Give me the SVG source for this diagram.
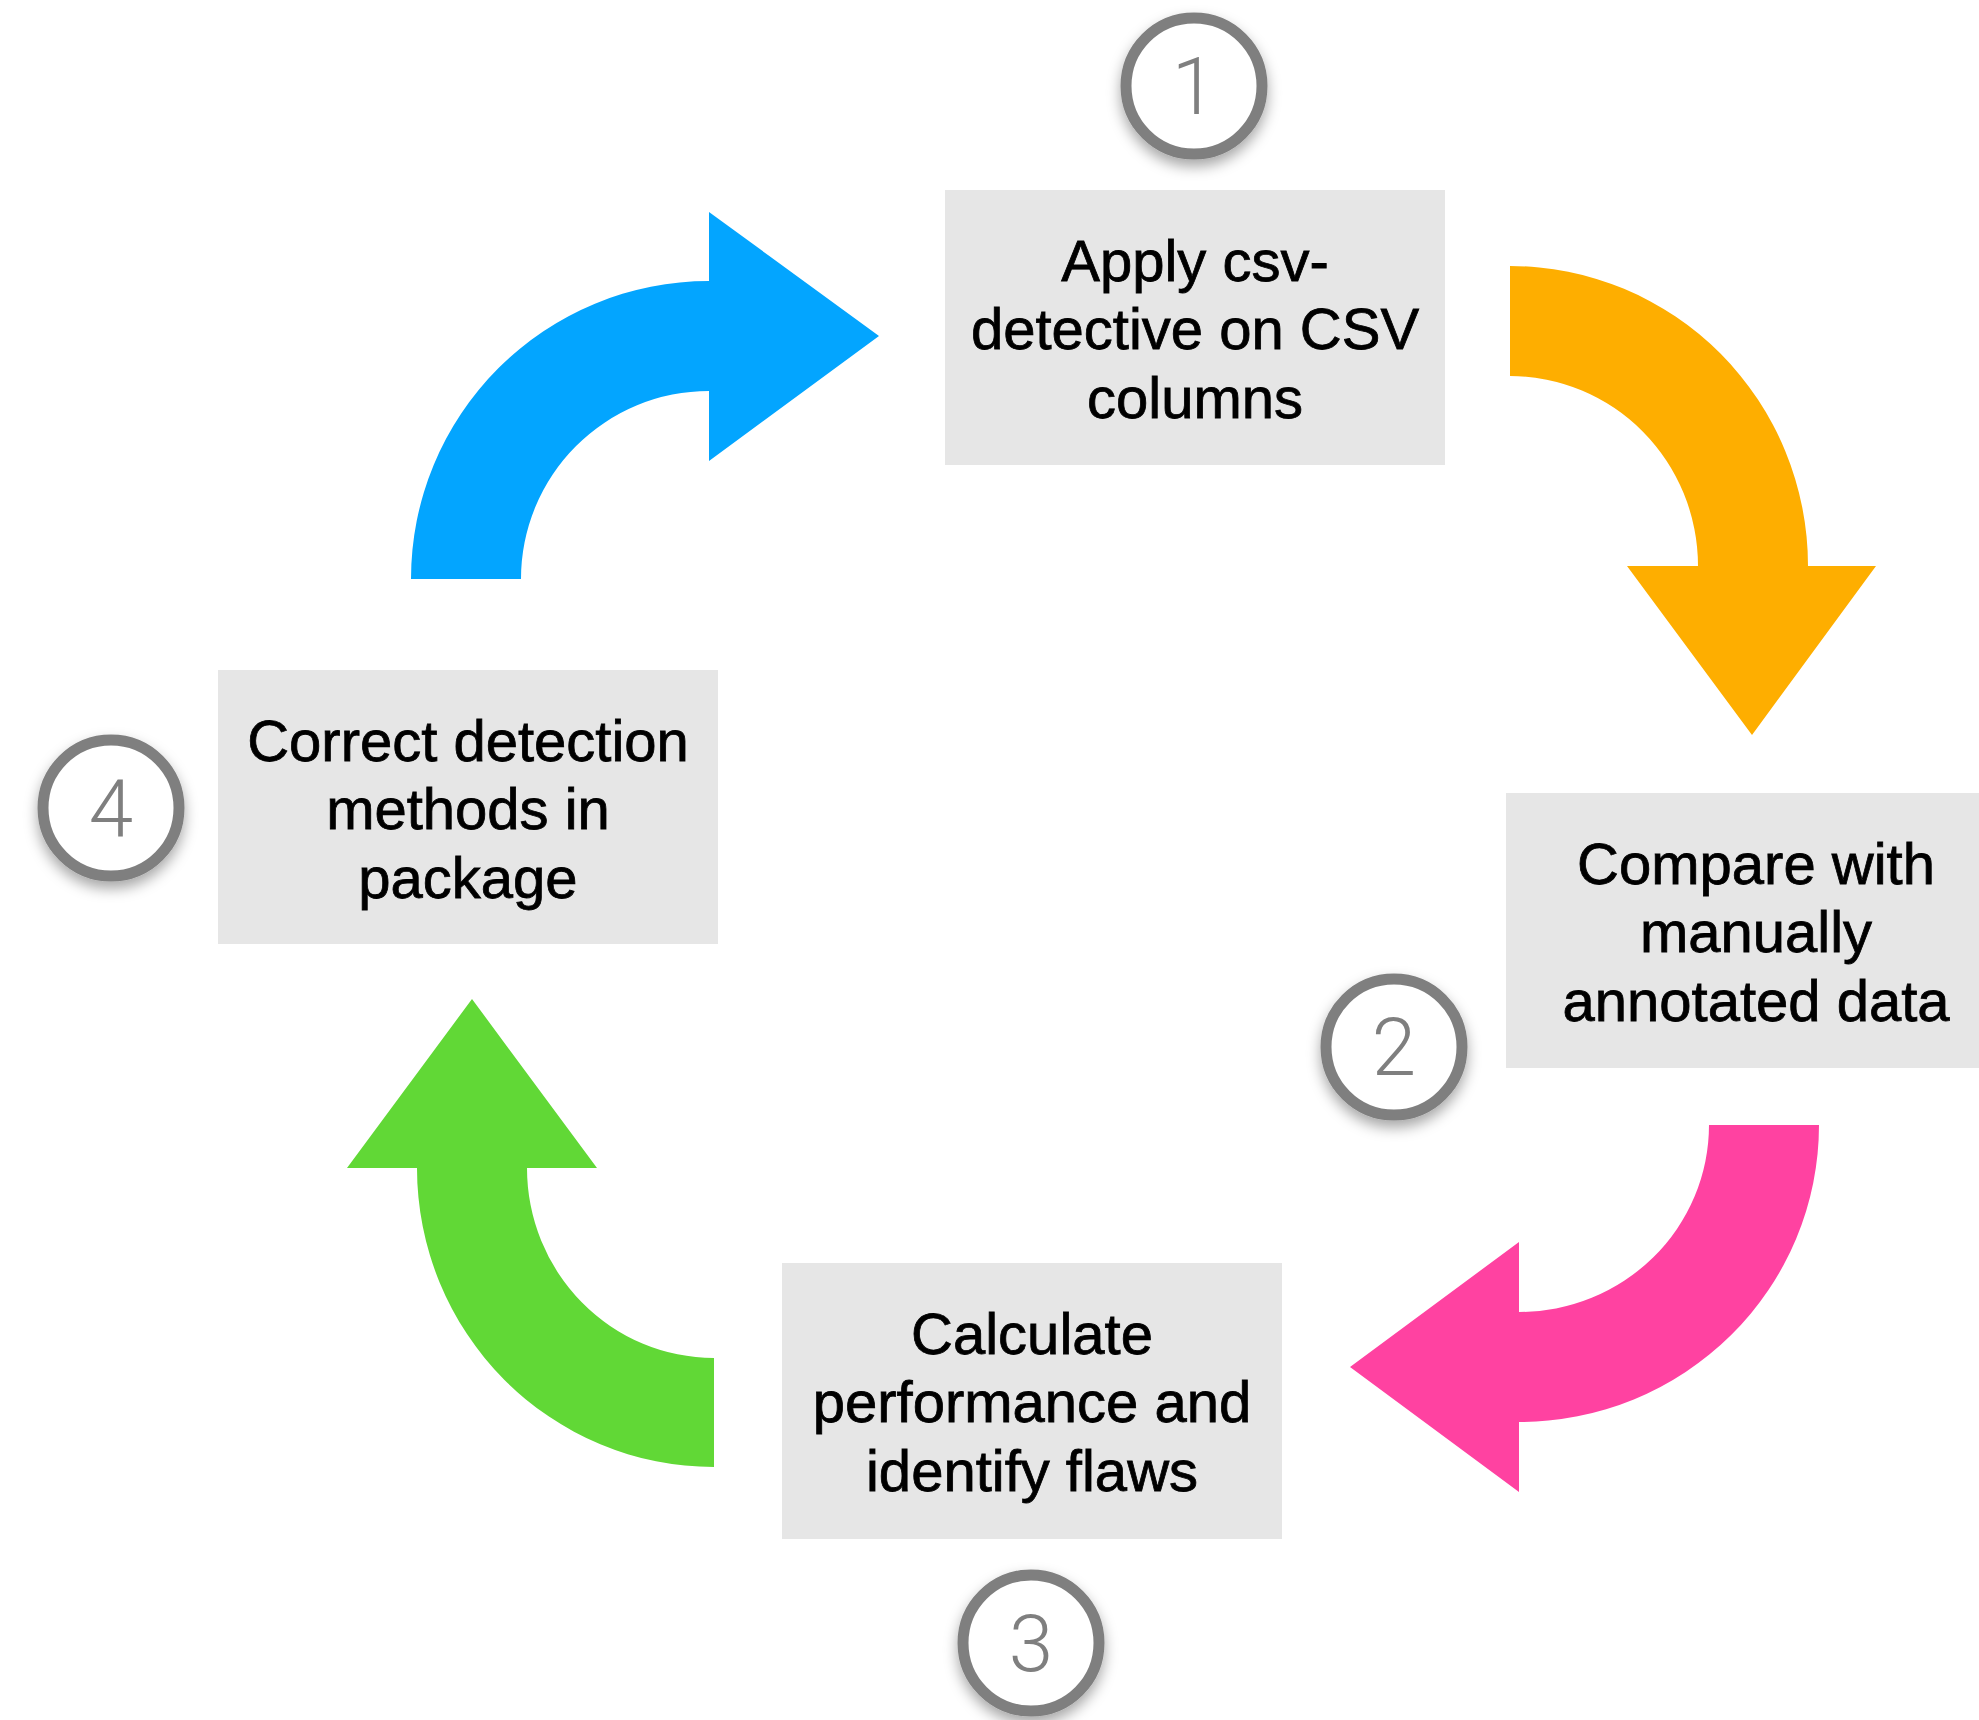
<svg xmlns="http://www.w3.org/2000/svg" width="1979" height="1720" viewBox="0 0 1979 1720">
<style>
.box{fill:#e6e6e6}
.lbl{font-family:"Liberation Sans",Arial,sans-serif;font-size:58px;fill:#000;stroke:#000;stroke-width:0.8;text-anchor:middle}
.ring{fill:#fff;stroke:#7f7f7f;stroke-width:11;filter:url(#sh)}
.num{font-family:Roboto,"Liberation Sans",sans-serif;font-weight:300;font-size:80px;fill:#7f7f7f;text-anchor:middle}
</style>
<defs>
<filter id="sh" x="-40%" y="-40%" width="180%" height="190%">
<feDropShadow dx="0" dy="7" stdDeviation="7" flood-color="#000" flood-opacity="0.35"/>
</filter>
</defs>
<rect width="1979" height="1720" fill="#fff"/>
<g id="connectors">
<path id="arrow-blue" fill="#03a5ff" d="M411 579 A298 298 0 0 1 709 281 L709 212 L879 336 L709 461 L709 391 A188 188 0 0 0 521 579 Z"/>
<path id="arrow-orange" fill="#feae00" d="M1510 266 A298 300 0 0 1 1808 566 L1876 566 L1752 735 L1627 566 L1698 566 A188 190 0 0 0 1510 376 Z"/>
<path id="arrow-pink" fill="#ff42a1" d="M1709 1125 L1819 1125 A300 297 0 0 1 1519 1422 L1519 1492 L1350 1367 L1519 1242 L1519 1312 A190 187 0 0 0 1709 1125 Z"/>
<path id="arrow-green" fill="#61d836" d="M714 1358 L714 1467 A297 299 0 0 1 417 1168 L347 1168 L472 999 L597 1168 L527 1168 A187 190 0 0 0 714 1358 Z"/>
</g>
<g id="node1">
<rect class="box" x="945" y="190" width="500" height="275"/>
<text class="lbl"><tspan x="1195" y="281">Apply csv-</tspan><tspan x="1195" y="349">detective on CSV</tspan><tspan x="1195" y="418">columns</tspan></text>
</g>
<g id="node2">
<rect class="box" x="1506" y="793" width="500" height="275"/>
<text class="lbl"><tspan x="1756" y="884">Compare with</tspan><tspan x="1756" y="952">manually</tspan><tspan x="1756" y="1021">annotated data</tspan></text>
</g>
<g id="node3">
<rect class="box" x="782" y="1263" width="500" height="276"/>
<text class="lbl"><tspan x="1032" y="1354">Calculate</tspan><tspan x="1032" y="1422">performance and</tspan><tspan x="1032" y="1491">identify flaws</tspan></text>
</g>
<g id="node4">
<rect class="box" x="218" y="670" width="500" height="274"/>
<text class="lbl"><tspan x="468" y="761">Correct detection</tspan><tspan x="468" y="829">methods in</tspan><tspan x="468" y="898">package</tspan></text>
</g>
<g id="badge1">
<circle class="ring" cx="1194" cy="86" r="68"/>
<text class="num" x="1194" y="114">1</text>
</g>
<g id="badge2">
<circle class="ring" cx="1394" cy="1047" r="68"/>
<text class="num" x="1394" y="1075">2</text>
</g>
<g id="badge3">
<circle class="ring" cx="1031" cy="1643" r="68"/>
<text class="num" x="1031" y="1671">3</text>
</g>
<g id="badge4">
<circle class="ring" cx="111" cy="808" r="68"/>
<text class="num" x="111" y="836">4</text>
</g>
</svg>
